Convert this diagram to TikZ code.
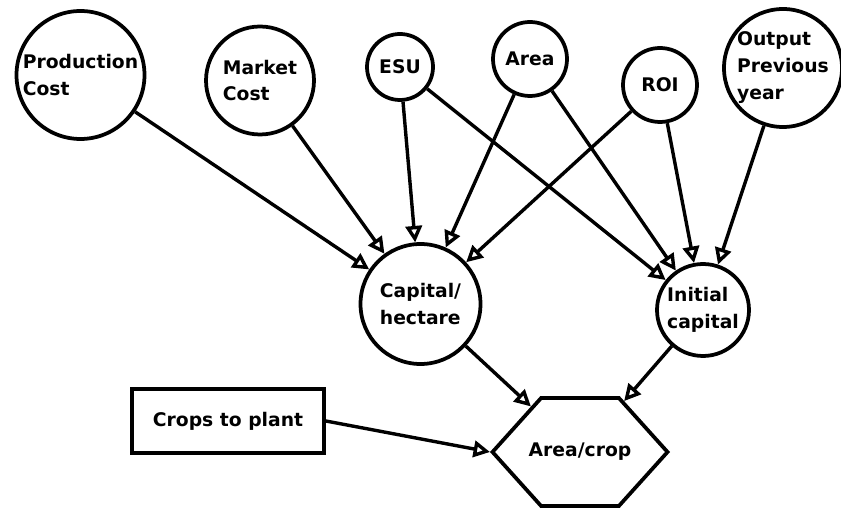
\documentclass[tikz,border=0pt]{standalone}
\usepackage{fontspec}
\setmainfont{DejaVu Sans}
\usetikzlibrary{shapes.symbols, arrows.meta}

\begin{document}
\begin{tikzpicture}[
  font=\bfseries\fontsize{16}{23}\selectfont,
  var/.style={circle, draw, line width=3.2pt, inner sep=0pt, align=left},
  box/.style={rectangle, draw, line width=3.2pt, minimum width=5.76cm, minimum height=1.92cm},
  hexbox/.style={signal, signal to=east and west, signal pointer angle=96, draw, line width=3.2pt, minimum width=5.25cm, minimum height=3.24cm, inner sep=0pt},
  arrow/.style={-{Triangle[open, length=14pt, width=14pt]}, line width=2.9pt}
]
\useasboundingbox (0,0) rectangle (25.23,15.21);

% Top row: inputs
\node[var, minimum size=3.84cm] (prodcost) at (2.415, 12.96) {Production\\Cost};
\node[var, minimum size=3.24cm] (marketcost) at (7.8, 12.795) {Market\\Cost};
\node[var, minimum size=1.98cm] (esu) at (12.0, 13.2) {ESU};
\node[var, minimum size=2.22cm] (area) at (15.9, 13.44) {Area};
\node[var, minimum size=2.22cm] (roi) at (19.8, 12.66) {ROI};
\node[var, minimum size=3.54cm] (output) at (23.49, 13.17) {Output\\Previous\\year};

% Middle row
\node[var, minimum size=3.6cm] (caphect) at (12.615, 6.09) {Capital/\\hectare};
\node[var, minimum size=2.76cm] (initcap) at (21.09, 5.91) {Initial\\capital};

% Bottom row
\node[box] (crops) at (6.84, 2.58) {Crops to plant};
\node[hexbox] (areacrop) at (17.4, 1.65) {\makebox[2.3cm]{Area/crop}};

% Connections
\draw[arrow] (prodcost) -- (caphect);
\draw[arrow] (marketcost) -- (caphect);
\draw[arrow] (esu) -- (caphect);
\draw[arrow] (area) -- (caphect);
\draw[arrow] (roi) -- (caphect);
\draw[arrow] (esu) -- (initcap);
\draw[arrow] (area) -- (initcap);
\draw[arrow] (roi) -- (initcap);
\draw[arrow] (output) -- (initcap);
\draw[arrow] (caphect) -- (areacrop);
\draw[arrow] (initcap) -- (areacrop);
\draw[arrow] (crops.east) -- (areacrop.west);

\end{tikzpicture}
\end{document}
